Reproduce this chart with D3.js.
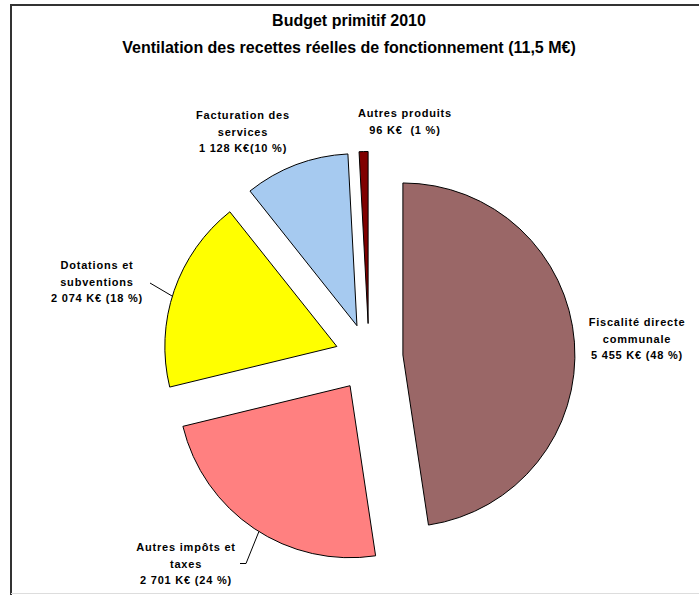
<!DOCTYPE html>
<html>
<head>
<meta charset="utf-8">
<script src="https://cdn.jsdelivr.net/npm/d3@7"></script>
<style>
  body { margin: 0; background: #fff; }
  text { font-family: "Liberation Sans", Arial, sans-serif; font-weight: bold; fill: #000; }
  .lbl { white-space: pre; letter-spacing: 0.8px; }
</style>
</head>
<body>
<svg id="chart" width="699" height="595"></svg>
<script>
let categories = ['Fiscalité directe communale', 'Autres impôts et taxes', 'Dotations et subventions', 'Facturation des services', 'Autres produits'];
let values = [5455, 2701, 2074, 1128, 96];
let percents = ['48 %', '24 %', '18 %', '10 %', '1 %'];
let sliceColors = ['#9a6767', '#ff8080', '#ffff00', '#a6caf0', '#800000'];

// label text lines, per slice
let labelLines = [
  ['Fiscalité directe', 'communale', '5 455 K€ (48 %)'],
  ['Autres impôts et', 'taxes', '2 701 K€ (24 %)'],
  ['Dotations et', 'subventions', '2 074 K€ (18 %)'],
  ['Facturation des', 'services', '1 128 K€(10 %)'],
  ['Autres produits', '96 K€  (1 %)']
];
let labelPos = [[637, 326], [186, 551], [97, 269], [243, 119], [405, 117]];

function ready(fn) {
  if (document.readyState != 'loading') fn();
  else document.addEventListener('DOMContentLoaded', fn);
}
ready(main);

function main() {
  let svg = d3.select('#chart');

  // frame
  svg.append('path').attr('d', 'M11,595 V5 H699').attr('fill', 'none')
    .attr('stroke', '#333').attr('stroke-width', 2);
  svg.append('line').attr('x1', 11).attr('x2', 699).attr('y1', 593.5).attr('y2', 593.5)
    .attr('stroke', '#ddd').attr('stroke-width', 1);

  svg.append('text').attr('x', 349).attr('y', 26).attr('text-anchor', 'middle')
    .style('font-size', '16px').text('Budget primitif 2010');
  svg.append('text').attr('x', 349).attr('y', 53).attr('text-anchor', 'middle')
    .style('font-size', '16px').text('Ventilation des recettes réelles de fonctionnement (11,5 M€)');

  let cx = 369, cy = 357.5, r = 172, explode = 34;
  let pie = d3.pie().sort(null).value(d => d)(values);
  let arc = d3.arc().innerRadius(0).outerRadius(r);

  let g = svg.append('g').attr('transform', `translate(${cx},${cy})`);
  let offsets = pie.map(p => {
    let a = (p.startAngle + p.endAngle) / 2;
    return [explode * Math.sin(a), -explode * Math.cos(a)];
  });

  g.selectAll('path.slice').data(pie).join('path')
    .attr('class', 'slice')
    .attr('transform', (d, i) => `translate(${offsets[i][0]},${offsets[i][1]})`)
    .attr('d', arc)
    .attr('fill', (d, i) => sliceColors[i])
    .attr('stroke', '#000').attr('stroke-width', 1).attr('stroke-linejoin', 'round');

  // leader lines: slice index, angle in degrees, points from the label
  let leaders = [
    {i: 2, deg: 287, from: [[150, 283]]},
    {i: 1, deg: 212, from: [[240, 563.5], [246, 563.5]]}
  ];
  leaders.forEach(function(l) {
    let a = l.deg * Math.PI / 180;
    let px = cx + offsets[l.i][0] + r * Math.sin(a);
    let py = cy + offsets[l.i][1] - r * Math.cos(a);
    let pts = l.from.concat([[px, py]]);
    svg.append('path').attr('d', d3.line()(pts)).attr('fill', 'none')
      .attr('stroke', '#000').attr('stroke-width', 1);
  });

  labelLines.forEach(function(lines, i) {
    let t = svg.append('text').attr('class', 'lbl').attr('text-anchor', 'middle')
      .style('font-size', '11px')
      .attr('x', labelPos[i][0]).attr('y', labelPos[i][1]);
    lines.forEach(function(s, k) {
      t.append('tspan').attr('x', labelPos[i][0]).attr('dy', k === 0 ? 0 : 16.5).text(s);
    });
  });
}
</script>
</body>
</html>
